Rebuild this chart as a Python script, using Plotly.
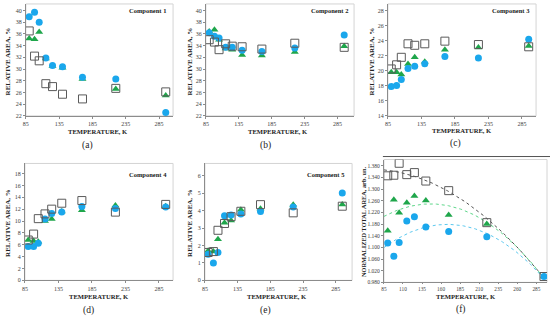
import numpy as np
import plotly.graph_objects as go

W, H = 550, 322

# ---------------- data ----------------
temps = [90, 98, 105, 115, 125, 140, 170, 220, 295]

comp1_sq = [36.5, 32.2, 31.4, 27.5, 27.0, 25.7, 24.9, 26.7, 26.1]
comp1_tri = [35.2, 35.1, 36.3, 31.8, 30.5, 30.2, 28.3, 26.6, 25.5]
comp1_cir = [38.9, 39.7, 38.0, 31.9, 30.6, 30.4, 28.6, 28.3, 22.6]

comp2_sq = [35.0, 34.6, 33.3, 34.3, 33.9, 33.8, 33.4, 34.4, 33.7]
comp2_tri = [36.4, 36.7, 35.0, 33.5, 33.3, 32.4, 32.3, 32.9, 33.9]
comp2_cir = [36.2, 35.6, 35.3, 33.7, 33.7, 33.2, 33.0, 33.6, 35.8]

comp3_sq = [20.25, 20.8, 21.8, 23.6, 23.4, 23.6, 23.95, 23.5, 23.2]
comp3_tri = [19.8, 19.8, 19.5, 20.9, 21.8, 21.2, 22.8, 23.1, 23.3]
comp3_cir = [17.9, 18.05, 18.85, 20.3, 20.6, 20.95, 21.9, 21.7, 24.2]

comp4_sq = [6.8, 7.8, 10.4, 11.2, 12.0, 13.0, 13.45, 11.5, 12.8]
comp4_tri = [6.8, 6.65, 6.5, 10.0, 10.35, 11.6, 11.8, 12.6, 12.5]
comp4_cir = [5.7, 5.7, 6.25, 10.35, 11.25, 11.5, 12.45, 12.1, 12.35]

comp5_sq = [1.6, 1.65, 2.87, 3.26, 3.65, 3.96, 4.34, 3.87, 4.25]
comp5_tri = [1.7, 1.65, 2.36, 3.3, 3.43, 4.05, 4.1, 4.34, 4.35]
comp5_cir = [1.5, 1.0, 1.6, 3.7, 3.75, 3.8, 3.95, 4.2, 5.0]

total_sq = [1.346, 1.348, 1.389, 1.350, 1.357, 1.328, 1.295, 1.185, 1.000]
total_tri = [1.157, 1.264, 1.219, 1.253, 1.277, 1.261, 1.211, 1.180, 1.000]
total_cir = [1.115, 1.070, 1.117, 1.191, 1.205, 1.170, 1.155, 1.137, 1.000]

x_ticks_main = [85, 135, 185, 235, 285]
x_ticks_f = [85, 110, 135, 160, 185, 210, 235, 260, 285]
y_ticks_ab = [22, 24, 26, 28, 30, 32, 34, 36, 38, 40]
y_ticks_c = [14, 16, 18, 20, 22, 24, 26, 28]
y_ticks_d = [0, 2, 4, 6, 8, 10, 12, 14, 16, 18]
y_ticks_e = [0, 1, 2, 3, 4, 5, 6]
y_ticks_f = [0.98, 1.02, 1.06, 1.10, 1.14, 1.18, 1.22, 1.26, 1.30, 1.34, 1.38]

components = ["Component 1", "Component 2", "Component 3", "Component 4", "Component 5"]
panel_letters = ["(a)", "(b)", "(c)", "(d)", "(e)", "(f)"]

# ---------------- styling ----------------
SERIF = "Liberation Serif"
C_CIR = "#1AA7EC"
C_TRI = "#1FA64B"
C_SQ = "#5A5A5A"
C_FIT_SQ = "#555555"
C_FIT_TRI = "#5ED68A"
C_FIT_CIR = "#5CC8EE"

def px_x(p):
    return p / W

def px_y(p):
    return 1 - p / H

# panel geometry in pixels: (left, right, top, bottom, xrange, yrange, yticks)
panels = [
    (23, 171, 4, 117, [85, 306], [22, 41.1], y_ticks_ab),
    (204, 353, 4, 117, [85, 310], [22, 41.1], y_ticks_ab),
    (387, 536, 4, 117, [85, 306], [14, 28.9], y_ticks_c),
    (22, 171, 165, 283, [85, 306], [0, 19.7], y_ticks_d),
    (203, 351, 165, 283, [85, 310], [0, 6.7], y_ticks_e),
    (383, 547, 161, 285, [85, 299], [0.98, 1.402], y_ticks_f),
]

series = [
    (comp1_sq, comp1_tri, comp1_cir),
    (comp2_sq, comp2_tri, comp2_cir),
    (comp3_sq, comp3_tri, comp3_cir),
    (comp4_sq, comp4_tri, comp4_cir),
    (comp5_sq, comp5_tri, comp5_cir),
    (total_sq, total_tri, total_cir),
]

fig = go.Figure()
layout = dict(
    width=W, height=H,
    margin=dict(l=0, r=0, t=0, b=0),
    paper_bgcolor="white", plot_bgcolor="white",
    showlegend=False,
    font=dict(family=SERIF, color="#333333"),
)
shapes = []
annotations = []

for i, (l, r, t, b, xr, yr, yt) in enumerate(panels):
    n = i + 1
    xa = "xaxis" if n == 1 else f"xaxis{n}"
    ya = "yaxis" if n == 1 else f"yaxis{n}"
    xref = "x" if n == 1 else f"x{n}"
    yref = "y" if n == 1 else f"y{n}"
    is_f = (n == 6)
    layout[xa] = dict(
        domain=[px_x(l), px_x(r)], range=xr, anchor=yref,
        tickvals=x_ticks_f if is_f else x_ticks_main,
        showgrid=False, zeroline=False, showline=True, linecolor="#8C8C8C", linewidth=1,
        ticks="outside", ticklen=1 if is_f else 2, tickcolor="#8C8C8C",
        tickfont=dict(size=5.3 if is_f else 6, family=SERIF, color="#404040"),
    )
    layout[ya] = dict(
        domain=[px_y(b), px_y(t)], range=yr, anchor=xref,
        tickvals=yt, tickformat=".3f" if is_f else "d",
        showgrid=False, zeroline=False, showline=True, linecolor="#8C8C8C", linewidth=1,
        ticks="outside", ticklen=2, tickcolor="#8C8C8C",
        tickfont=dict(size=5.5 if is_f else 6, family=SERIF, color="#404040"),
    )
    # light frame around plot area
    shapes.append(dict(type="rect", xref="paper", yref="paper",
                       x0=px_x(l), x1=px_x(r), y0=px_y(b), y1=px_y(t),
                       line=dict(color="#D4D4D4", width=1), layer="below"))

    sq, tri, cir = series[i]
    if is_f:
        tt = np.linspace(85, 295, 120)
        for vals, col in ((total_sq, C_FIT_SQ), (total_tri, C_FIT_TRI), (total_cir, C_FIT_CIR)):
            coef = np.polyfit(temps, vals, 2)
            fig.add_trace(go.Scatter(x=tt, y=np.polyval(coef, tt), mode="lines",
                                     line=dict(color=col, width=1, dash="dot"),
                                     xaxis=xref, yaxis=yref, hoverinfo="skip"))
    fig.add_trace(go.Scatter(x=temps, y=tri, mode="markers",
                             marker=dict(symbol="triangle-up", size=7, color=C_TRI),
                             xaxis=xref, yaxis=yref))
    fig.add_trace(go.Scatter(x=temps, y=cir, mode="markers",
                             marker=dict(symbol="circle", size=7, color=C_CIR),
                             xaxis=xref, yaxis=yref))
    fig.add_trace(go.Scatter(x=temps, y=sq, mode="markers",
                             marker=dict(symbol="square-open", size=8,
                                         color=C_SQ, line=dict(width=1, color=C_SQ)),
                             xaxis=xref, yaxis=yref))

def ann(text, x, y, size, bold=False, angle=0, xanchor="center"):
    annotations.append(dict(
        text=f"<b>{text}</b>" if bold else text, xref="paper", yref="paper",
        x=px_x(x), y=px_y(y), xanchor=xanchor, yanchor="middle",
        showarrow=False, textangle=angle,
        font=dict(family=SERIF, size=size, color="#222222"),
    ))

# component labels
comp_pos = [(166, 11), (349, 11), (532, 11), (167, 176), (346, 176)]
for txt, (x, y) in zip(components, comp_pos):
    ann(txt, x, y, 6.5, bold=True, xanchor="right")

# y titles
for x, y in [(5, 62), (188, 62), (371, 62), (5, 225), (188, 225)]:
    ann("RELATIVE AREA, %", x, y, 7, bold=True, angle=-90)
ann("NORMALIZED TOTAL AREA, arb. un.", 363, 224, 6.3, bold=True, angle=-90)

# x titles
for x, y in [(96, 133), (277, 133), (462, 132), (97, 299), (276, 299), (466, 299.5)]:
    ann("TEMPERATURE, K", x, y, 6.6, bold=True)

# panel letters
for txt, (x, y) in zip(panel_letters, [(85, 147), (264, 147), (455, 145), (86, 313), (264, 313), (461, 312.5)]):
    ann(txt, x, y, 9.5)

# separator line above panel (f)
shapes.append(dict(type="line", xref="paper", yref="paper",
                   x0=px_x(382), x1=px_x(550), y0=px_y(158), y1=px_y(158),
                   line=dict(color="#555555", width=1)))

layout["shapes"] = shapes
layout["annotations"] = annotations
fig.update_layout(**layout)
fig.write_html(
    "out.html",
    config={"displayModeBar": False},
    post_script="document.body.style.margin='0px';document.body.style.padding='0px';document.body.style.overflow='hidden';",
)
